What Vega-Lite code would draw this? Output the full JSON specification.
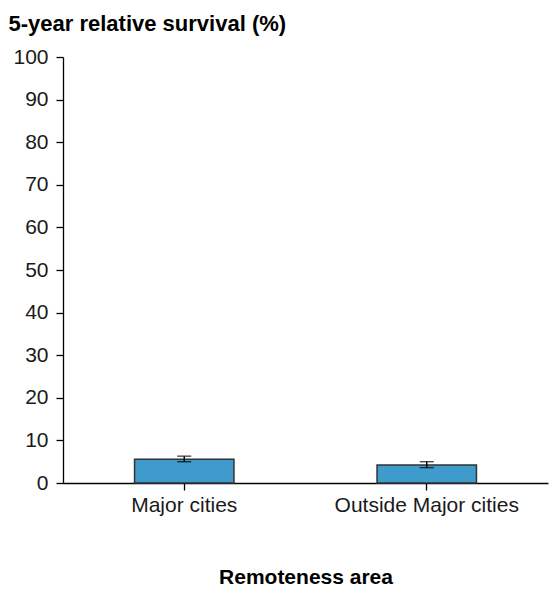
{
  "$schema": "https://vega.github.io/schema/vega-lite/v6.json",
  "autosize": "none",
  "padding": {"left": 63, "top": 57, "right": 2, "bottom": 106},
  "width": 485,
  "height": 426,
  "background": "white",
  "config": {
    "view": {"stroke": null},
    "font": "Liberation Sans",
    "axis": {
      "labelFont": "Liberation Sans",
      "titleFont": "Liberation Sans",
      "labelFontSize": 21,
      "labelColor": "#1a1a1a",
      "labelLimit": 400,
      "titleFontSize": 21,
      "titleFontWeight": "bold",
      "titleColor": "#000000",
      "domainColor": "#000000",
      "domainWidth": 1.3,
      "tickColor": "#000000",
      "tickWidth": 1.3,
      "tickSize": 7,
      "grid": false
    }
  },
  "data": {
    "values": [
      {"region": "Major cities", "value": 5.6, "lo": 5.0, "hi": 6.3},
      {"region": "Outside Major cities", "value": 4.2, "lo": 3.6, "hi": 5.0}
    ]
  },
  "encoding": {
    "x": {
      "field": "region",
      "type": "nominal",
      "sort": null,
      "scale": {"paddingInner": 0.59, "paddingOuter": 0.295},
      "axis": {
        "title": "Remoteness area",
        "labelAngle": 0,
        "labelPadding": 4,
        "labelLimit": 400,
        "titlePadding": 51
      }
    }
  },
  "layer": [
    {
      "mark": {"type": "bar", "color": "#3f9bcb", "stroke": "#333333", "strokeWidth": 1.5},
      "encoding": {
        "y": {
          "field": "value",
          "type": "quantitative",
          "scale": {"domain": [0, 100]},
          "axis": {
            "values": [0, 10, 20, 30, 40, 50, 60, 70, 80, 90, 100],
            "title": "5-year relative survival (%)",
            "titleFontSize": 22,
            "titleAngle": 0,
            "titleAlign": "left",
            "titleBaseline": "middle",
            "titleX": -55,
            "titleY": -34,
            "labelPadding": 8
          }
        }
      }
    },
    {
      "mark": {"type": "rule", "color": "#000000", "strokeWidth": 1.4},
      "encoding": {
        "y": {"field": "lo", "type": "quantitative"},
        "y2": {"field": "hi"}
      }
    },
    {
      "mark": {"type": "tick", "color": "#000000", "size": 14, "thickness": 1.4},
      "encoding": {"y": {"field": "lo", "type": "quantitative"}}
    },
    {
      "mark": {"type": "tick", "color": "#000000", "size": 14, "thickness": 1.4},
      "encoding": {"y": {"field": "hi", "type": "quantitative"}}
    }
  ]
}
